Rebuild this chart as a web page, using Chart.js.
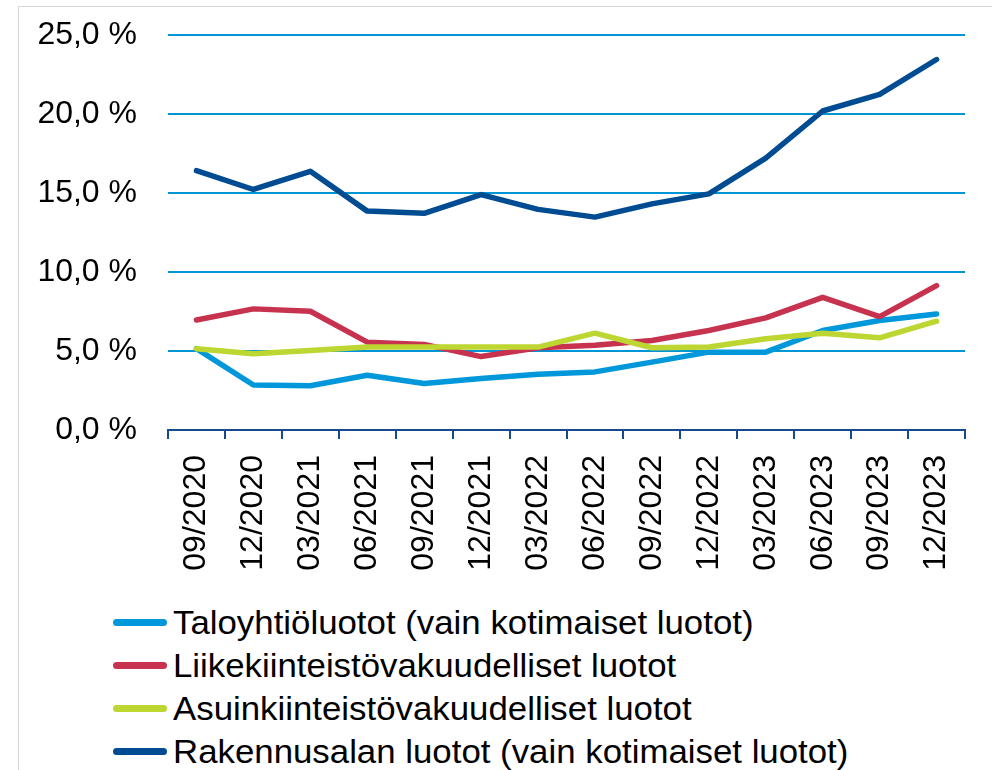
<!DOCTYPE html>
<html>
<head>
<meta charset="utf-8">
<script src="https://cdn.jsdelivr.net/npm/chart.js@4"></script>
<style>
  body { margin: 0; background: #fff; font-family: "Liberation Sans", Arial, sans-serif; }
  #wrap { position: relative; width: 992px; height: 770px; overflow: hidden; }
  #frame { position: absolute; left: 18px; top: 6px; width: 1000px; height: 800px;
           border-left: 1px solid #d6d6d6; border-top: 1px solid #d6d6d6; }
  #box { position: absolute; left: 0; top: -15px; width: 992px; height: 605px; }
  #legend { position: absolute; left: 113px; top: 601px; }
  .row { display: flex; align-items: center; height: 43px; font-size: 33px; color: #000; }
  .sw { width: 54px; height: 7px; border-radius: 4px; margin-right: 6px; }
  .tx { display: inline-block; transform: scaleX(1.055); transform-origin: left center; white-space: nowrap; }
</style>
</head>
<body>
<div id="wrap">
  <div id="frame"></div>
  <div id="box"><canvas id="lainat"></canvas></div>
  <div id="legend"></div>
</div>
<script>
// neljännekset
var kaudet = ["09/2020", "12/2020", "03/2021", "06/2021", "09/2021", "12/2021", "03/2022",
              "06/2022", "09/2022", "12/2022", "03/2023", "06/2023", "09/2023", "12/2023"];

var taloyhtio = [5.15, 2.85, 2.8, 3.47, 2.95, 3.26, 3.53, 3.68, 4.3, 4.93, 4.93, 6.3, 6.93, 7.35];
var liikekiinteisto = [6.97, 7.67, 7.52, 5.56, 5.42, 4.65, 5.21, 5.36, 5.67, 6.3, 7.1, 8.4, 7.18, 9.14];
var asuinkiinteisto = [5.15, 4.83, 5.04, 5.25, 5.25, 5.25, 5.25, 6.13, 5.21, 5.25, 5.78, 6.13, 5.84, 6.89];
var rakennusala = [16.43, 15.23, 16.38, 13.86, 13.72, 14.91, 13.97, 13.48, 14.32, 14.95, 17.22, 20.2, 21.25, 23.46];

var nimet = ["Taloyhtiöluotot (vain kotimaiset luotot)", "Liikekiinteistövakuudelliset luotot",
             "Asuinkiinteistövakuudelliset luotot", "Rakennusalan luotot (vain kotimaiset luotot)"];
var varit = ["#0098da", "#c7324f", "#bdd632", "#004c93"];

var fontti = "'Liberation Sans', Arial, sans-serif";

function sarja(i, arvot) {
  return {
    label: nimet[i],
    data: arvot,
    borderColor: varit[i],
    backgroundColor: varit[i],
    borderWidth: 5.5,
    pointRadius: 0,
    tension: 0,
    borderCapStyle: "round",
    borderJoinStyle: "round",
    order: 4 - i
  };
}

var ctx = document.getElementById("lainat").getContext("2d");
var chart = new Chart(ctx, {
  type: "line",
  data: {
    labels: kaudet,
    datasets: [
      sarja(0, taloyhtio),
      sarja(1, liikekiinteisto),
      sarja(2, asuinkiinteisto),
      sarja(3, rakennusala)
    ]
  },
  options: {
    responsive: true,
    maintainAspectRatio: false,
    animation: false,
    layout: { padding: { top: 19, right: 27, bottom: 0, left: 0 } },
    plugins: { legend: { display: false }, tooltip: { enabled: false } },
    scales: {
      x: {
        offset: true,
        grid: { drawOnChartArea: false, offset: true, tickLength: 9, color: "#174a8c", lineWidth: 2 },
        border: { color: "#174a8c", width: 2 },
        ticks: { minRotation: 90, maxRotation: 90, padding: 16, color: "#000",
                 font: { family: fontti, size: 32 } },
        afterFit: function (s) { s.height = 160; }
      },
      y: {
        min: 0, max: 25,
        ticks: { stepSize: 5, padding: 31, color: "#000", font: { family: fontti, size: 32 },
                 callback: function (v) { return v.toFixed(1).replace(".", ",") + " %"; } },
        grid: { drawTicks: false, lineWidth: 2,
                color: function (c) { return c.tick && c.tick.value === 0 ? "rgba(0,0,0,0)" : "#0096d6"; } },
        border: { display: false },
        afterFit: function (s) { s.width = 168; }
      }
    }
  }
});

// selite
var sel = document.getElementById("legend");
nimet.forEach(function (n, i) {
  var r = document.createElement("div");
  r.className = "row";
  r.innerHTML = '<span class="sw" style="background:' + varit[i] + '"></span><span class="tx">' + n + '</span>';
  sel.appendChild(r);
});
</script>
</body>
</html>
